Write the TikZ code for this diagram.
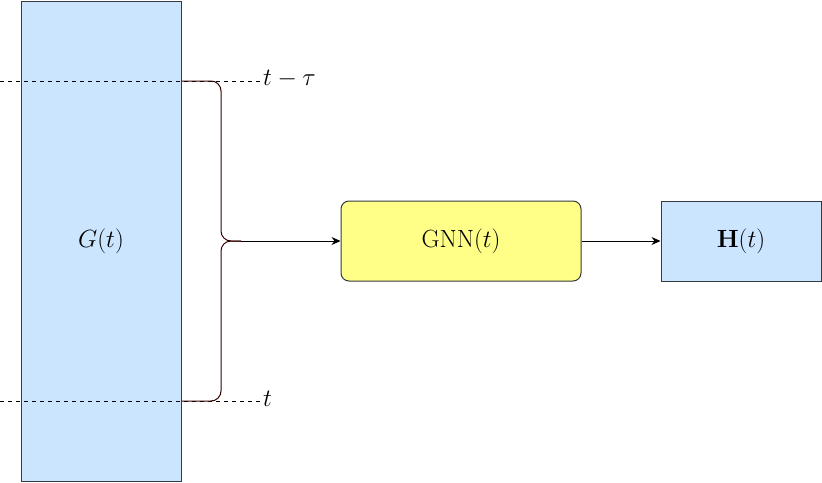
\documentclass[tikz,border=0pt]{standalone}
\usetikzlibrary{arrows.meta}
\definecolor{bluefill}{HTML}{CCE5FF}
\definecolor{yellowfill}{HTML}{FFFF88}
\definecolor{edgegray}{HTML}{36393D}
\definecolor{bracecol}{HTML}{330000}
\begin{document}
\begin{tikzpicture}[x=1pt,y=-1pt,
  box/.style={draw=edgegray,line width=1pt,inner sep=0pt,font=\fontsize{27.5}{32}\selectfont},
  conn/.style={line width=1pt,-{Stealth[length=9pt,width=8pt]}},
  dline/.style={dashed,line width=1pt,dash pattern=on 4pt off 4pt},
  bracestyle/.style={draw=bracecol,line width=1pt,rounded corners=10pt},
  lbl/.style={anchor=west,inner sep=0pt,font=\fontsize{27.5}{32}\selectfont}]
\useasboundingbox (0,0) rectangle (822,482);
\node[box,fill=bluefill,minimum width=160pt,minimum height=480pt] (G) at (101,241) {$G(t)$};
\node[box,fill=yellowfill,rounded corners=8pt,minimum width=240pt,minimum height=80pt] (gnn) at (461,241) {$\mathrm{GNN}(t)$};
\node[box,fill=bluefill,minimum width=160pt,minimum height=80pt] (H) at (741,241) {$\mathbf{H}(t)$};
\coordinate (d1s) at (0,81);
\coordinate (d2s) at (0,401);
\node[lbl] (l1) at (263,79) {$t-\tau$};
\node[lbl] (l2) at (263,399) {$t$};
\draw[dline] (d1s) -- (l1.west|-d1s);
\draw[dline] (d2s) -- (l2.west|-d2s);
\coordinate (tip) at (241,241);
\draw[bracestyle] (G.east|-d1s) -- (221,81) -- (221,241) -- (tip);
\draw[bracestyle] (G.east|-d2s) -- (221,401) -- (221,241) -- (tip);
\draw[conn] (tip) -- (gnn.west);
\draw[conn] (gnn.east) -- (H.west);
\end{tikzpicture}
\end{document}
